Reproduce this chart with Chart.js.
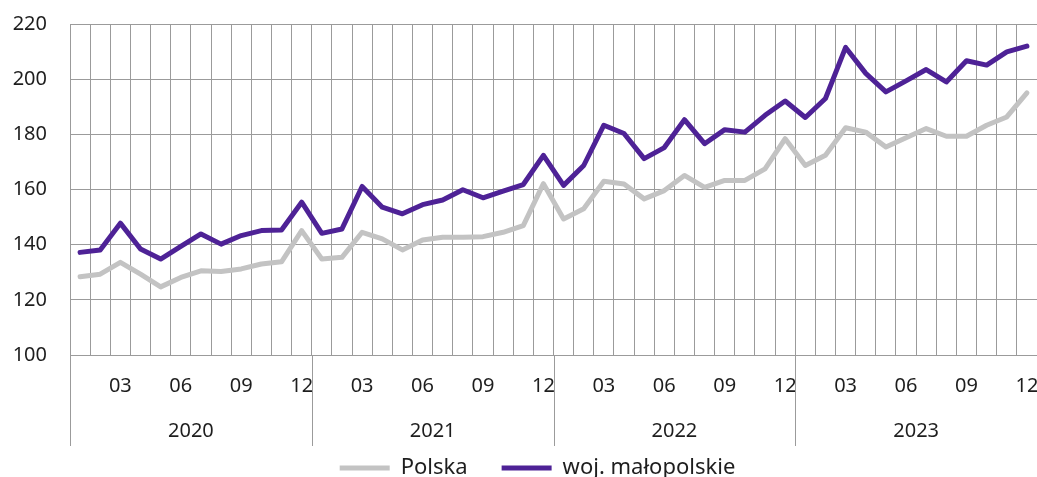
<!DOCTYPE html>
<html>
<head>
<meta charset="utf-8">
<script src="https://cdn.jsdelivr.net/npm/chart.js@4/dist/chart.umd.min.js"></script>
<style>
  html, body { margin: 0; padding: 0; background: #fff; }
  #wrap { width: 1037px; height: 477px; }
</style>
</head>
<body>
<div id="wrap"><canvas id="chart"></canvas></div>
<script>
// months 2020-01 .. 2023-12
const years = ['2020', '2021', '2022', '2023'];
const months = ['01', '02', '03', '04', '05', '06', '07', '08', '09', '10', '11', '12'];

const polska = [
  128.4, 129.3, 133.6, 129.3, 124.7, 128.1, 130.5, 130.3, 131.2, 133.0, 133.8, 145.1,
  134.8, 135.4, 144.5, 142.1, 138.1, 141.7, 142.7, 142.7, 142.9, 144.5, 146.9, 162.1,
  149.3, 153.0, 163.0, 162.0, 156.6, 159.6, 165.1, 160.8, 163.3, 163.3, 167.5, 178.4,
  168.7, 172.4, 182.4, 180.8, 175.4, 178.8, 182.1, 179.3, 179.3, 183.3, 186.3, 195.0
];
const malopolskie = [
  137.2, 138.1, 147.8, 138.4, 134.8, 139.4, 143.9, 140.2, 143.3, 145.1, 145.3, 155.4,
  144.1, 145.7, 161.1, 153.6, 151.2, 154.5, 156.2, 159.9, 157.0, 159.4, 161.8, 172.4,
  161.5, 168.7, 183.3, 180.3, 171.2, 175.2, 185.3, 176.6, 181.7, 180.8, 186.9, 192.1,
  186.1, 193.0, 211.5, 202.1, 195.4, 199.4, 203.5, 199.0, 206.7, 205.1, 209.9, 212.0
];
const yTicks = [100, 120, 140, 160, 180, 200, 220];

const labels = [];
years.forEach(y => months.forEach(m => labels.push(m)));

const GRID = '#9b9b9b';
const TEXT = '#1e1e1e';
const FONT = '"Noto Sans", sans-serif';

// year captions and separators under the month labels
const yearAxis = {
  id: 'yearAxis',
  afterLayout(chart) {
    // legend sits a bit right of centre in the original
    chart.legend.left += 19;
    chart.legend.right += 19;
  },
  afterDraw(chart) {
    const { ctx, chartArea, scales: { x } } = chart;
    const half = (x.getPixelForValue(1) - x.getPixelForValue(0)) / 2;
    ctx.save();
    ctx.strokeStyle = GRID;
    ctx.lineWidth = 1;
    years.forEach((yr, i) => {
      const lx = Math.round(x.getPixelForValue(i * 12) - half) + 0.5;
      ctx.beginPath();
      ctx.moveTo(lx, chartArea.bottom);
      ctx.lineTo(lx, chartArea.bottom + 91);
      ctx.stroke();
      const cx = (x.getPixelForValue(i * 12 + 5) + x.getPixelForValue(i * 12 + 6)) / 2;
      ctx.fillStyle = TEXT;
      ctx.font = '20px ' + FONT;
      ctx.textAlign = 'center';
      ctx.textBaseline = 'middle';
      ctx.fillText(yr, cx, chartArea.bottom + 76);
    });
    ctx.restore();
  }
};

new Chart(document.getElementById('chart'), {
  type: 'line',
  data: {
    labels: labels,
    datasets: [
      {
        label: 'Polska',
        data: polska,
        borderColor: '#c3c3c3',
        backgroundColor: '#c3c3c3',
        borderWidth: 5,
        pointRadius: 0,
        tension: 0,
        borderJoinStyle: 'round',
        borderCapStyle: 'round'
      },
      {
        label: 'woj. małopolskie',
        data: malopolskie,
        borderColor: '#4e2296',
        backgroundColor: '#4e2296',
        borderWidth: 5,
        pointRadius: 0,
        tension: 0,
        borderJoinStyle: 'round',
        borderCapStyle: 'round'
      }
    ]
  },
  options: {
    responsive: true,
    maintainAspectRatio: false,
    animation: false,
    layout: { padding: { top: 24, right: 0, left: 0, bottom: -12 } },
    plugins: {
      tooltip: { enabled: false },
      legend: {
        position: 'bottom',
        labels: {
          usePointStyle: true,
          pointStyle: 'line',
          pointStyleWidth: 50,
          padding: 34,
          color: TEXT,
          font: { family: FONT, size: 22 }
        }
      }
    },
    scales: {
      x: {
        offset: true,
        grid: { offset: true, color: GRID, lineWidth: 1, drawTicks: false },
        border: { color: GRID },
        ticks: {
          autoSkip: false,
          maxRotation: 0,
          padding: 19,
          color: TEXT,
          font: { family: FONT, size: 20 },
          callback: (v, i) => ((i + 1) % 3 === 0 ? labels[i] : '')
        },
        afterFit(scale) {
          scale.height = 68;
          scale.paddingLeft = 0;
          scale.paddingRight = 0;
        }
      },
      y: {
        min: 100,
        max: 220,
        afterBuildTicks(scale) { scale.ticks = yTicks.map(v => ({ value: v })); },
        grid: { color: GRID, lineWidth: 1, drawTicks: false },
        border: { color: GRID },
        ticks: {
          padding: 23,
          color: TEXT,
          font: { family: FONT, size: 20 }
        },
        afterFit(scale) {
          scale.width = 70;
          scale.paddingTop = 0;
          scale.paddingBottom = 0;
        }
      }
    }
  },
  plugins: [yearAxis]
});
</script>
</body>
</html>
